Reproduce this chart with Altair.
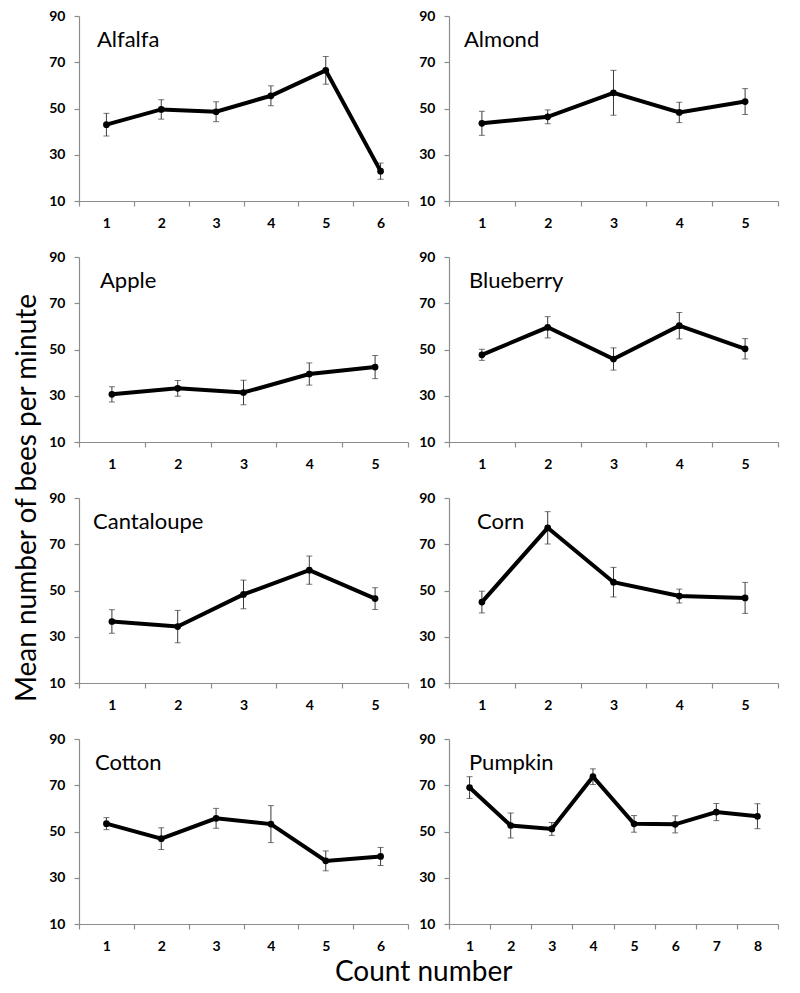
import altair as alt
import pandas as pd

crops = ["Alfalfa", "Almond", "Apple", "Blueberry", "Cantaloupe", "Corn", "Cotton", "Pumpkin"]

alfalfa_mean = [43.0, 49.6, 48.6, 55.5, 66.5, 22.9]
alfalfa_err = [4.9, 4.2, 4.3, 4.3, 6.0, 3.5]
almond_mean = [43.6, 46.4, 56.8, 48.3, 53.0]
almond_err = [5.2, 3.0, 9.7, 4.4, 5.6]
apple_mean = [30.6, 33.2, 31.4, 39.4, 42.4]
apple_err = [3.3, 3.4, 5.3, 4.8, 5.0]
blueberry_mean = [47.7, 59.6, 45.9, 60.3, 50.3]
blueberry_err = [2.4, 4.6, 4.8, 5.7, 4.4]
cantaloupe_mean = [36.6, 34.4, 48.3, 58.8, 46.5]
cantaloupe_err = [5.1, 7.0, 6.2, 6.1, 4.7]
corn_mean = [45.0, 77.1, 53.6, 47.6, 46.8]
corn_err = [4.7, 7.0, 6.4, 3.0, 6.7]
cotton_mean = [53.4, 46.9, 55.7, 53.2, 37.3, 39.2]
cotton_err = [2.6, 4.7, 4.3, 8.0, 4.3, 3.9]
pumpkin_mean = [69.0, 52.6, 51.1, 73.7, 53.3, 53.1, 58.4, 56.6]
pumpkin_err = [4.7, 5.4, 2.8, 3.4, 3.6, 3.7, 3.7, 5.4]

y_ticks = [10, 30, 50, 70, 90]

means = [alfalfa_mean, almond_mean, apple_mean, blueberry_mean,
         cantaloupe_mean, corn_mean, cotton_mean, pumpkin_mean]
errs = [alfalfa_err, almond_err, apple_err, blueberry_err,
        cantaloupe_err, corn_err, cotton_err, pumpkin_err]

# style / layout
FONT = "Lato"
label_dx = [18, 15, 21, 20, 14, 28, 16, 20]
PW, PH = 329, 185
AXIS_GRAY = "#8c8c8c"
BAR_COLOR = "#3a3a3a"


def panel(i):
    m = means[i]
    e = errs[i]
    n = len(m)
    df = pd.DataFrame({
        "count": [str(k) for k in range(1, n + 1)],
        "mean": m,
        "lo": [a - b for a, b in zip(m, e)],
        "hi": [a + b for a, b in zip(m, e)],
    })
    xs = alt.X("count:O", sort=None, bandPosition=0.5,
               scale=alt.Scale(type="band", paddingInner=0, paddingOuter=0),
               axis=alt.Axis(title=None, labelAngle=0, tickBand="extent", labelPadding=10))
    yscale = alt.Scale(domain=[10, 90], nice=False, zero=False)
    yaxis = alt.Axis(title=None, values=y_ticks, grid=False, labelPadding=9)
    base = alt.Chart(df)
    rule = base.mark_rule(color=BAR_COLOR, strokeWidth=1).encode(
        x=xs, y=alt.Y("lo:Q", scale=yscale, axis=yaxis), y2="hi:Q")
    cap_lo = base.mark_tick(color=BAR_COLOR, size=6, thickness=1).encode(
        x=xs, y=alt.Y("lo:Q", scale=yscale, axis=yaxis))
    cap_hi = base.mark_tick(color=BAR_COLOR, size=6, thickness=1).encode(
        x=xs, y=alt.Y("hi:Q", scale=yscale, axis=yaxis))
    line = base.mark_line(color="black", strokeWidth=4).encode(
        x=xs, y=alt.Y("mean:Q", scale=yscale, axis=yaxis))
    pts = base.mark_point(filled=True, size=45, color="black", opacity=1).encode(
        x=xs, y=alt.Y("mean:Q", scale=yscale, axis=yaxis))
    ttl = alt.Chart(pd.DataFrame({"t": [crops[i]]})).mark_text(
        align="left", baseline="alphabetic", fontSize=22, font=FONT, color="black"
    ).encode(x=alt.value(label_dx[i]), y=alt.value(31), text="t:N")
    return alt.layer(rule, cap_lo, cap_hi, line, pts, ttl).properties(width=PW, height=PH)


rows = [alt.hconcat(panel(2 * r), panel(2 * r + 1), spacing=9) for r in range(4)]
grid = alt.vconcat(*rows, spacing=20).properties(
    title=alt.TitleParams("Count number", orient="bottom", anchor="middle",
                          fontSize=28, font=FONT, fontWeight="normal", color="black",
                          offset=6, dx=10)
)
chart = alt.hconcat(grid).properties(
    title=alt.TitleParams("Mean number of bees per minute", orient="left", anchor="middle",
                          fontSize=28, font=FONT, fontWeight="normal", color="black",
                          offset=7),
    padding={"left": 5, "top": 1, "right": 5, "bottom": 0},
).configure_view(stroke=None).configure_axis(
    labelFont=FONT, labelFontSize=14, labelFontWeight="bold", labelColor="black",
    domainColor=AXIS_GRAY, tickColor=AXIS_GRAY, tickSize=5,
    domainWidth=1.2, tickWidth=1.2,
)

chart.save("out.html", embed_options={"renderer": "svg", "actions": False})
